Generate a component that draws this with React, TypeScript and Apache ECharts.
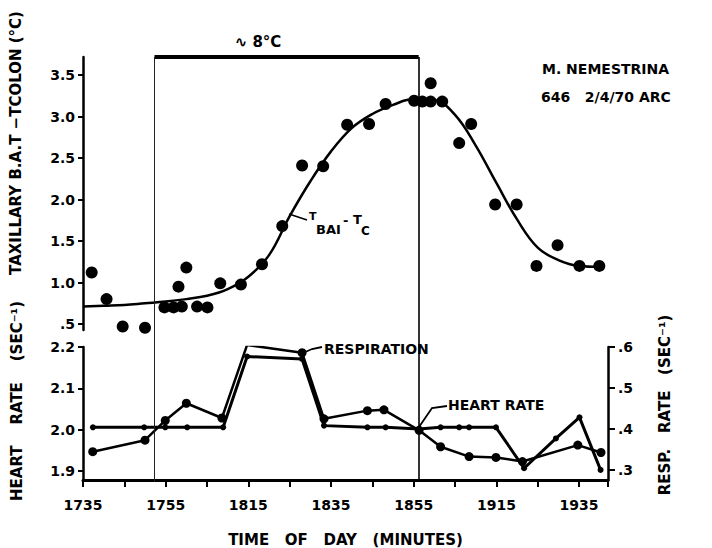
import React, { useEffect, useRef } from "react";
import * as echarts from "echarts";

// time axis: minutes after 17:35
const BASE_MINUTE = 17 * 60 + 35;
const timeTicks = [0, 20, 40, 60, 80, 100, 120];
const tempTicks = [0.5, 1.0, 1.5, 2.0, 2.5, 3.0, 3.5];
const heartTicks = [1.9, 2.0, 2.1, 2.2];
const respTicks = [0.3, 0.4, 0.5, 0.6];

// cold exposure (~8 °C)
const coldStart = 17.3;
const coldEnd = 81.2;

// T(BAT) - T(colon) measured points
const tempTimes = [2.1, 5.7, 9.6, 15.0, 19.7, 21.9, 23.1, 23.9, 25.0, 27.6, 30.1, 33.2, 38.2, 43.3, 48.2, 53.0, 58.1, 63.9, 69.2, 73.2, 80.1, 82.1, 84.1, 84.1, 86.9, 91.0, 93.9, 99.7, 104.9, 109.7, 114.8, 120.1, 124.9];
const tempValues = [1.12, 0.8, 0.47, 0.455, 0.7, 0.7, 0.95, 0.71, 1.18, 0.71, 0.7, 0.99, 0.975, 1.22, 1.68, 2.41, 2.4, 2.9, 2.91, 3.15, 3.19, 3.18, 3.18, 3.4, 3.18, 2.68, 2.91, 1.94, 1.94, 1.2, 1.45, 1.2, 1.2];

// fitted curve
const fitTimes = [0, 5, 10, 15, 20, 25, 30, 35, 40, 45, 50, 55, 60, 65, 70, 75, 80, 85, 90, 95, 100, 105, 110, 115, 120, 125];
const fitValues = [0.71, 0.72, 0.73, 0.75, 0.77, 0.8, 0.84, 0.92, 1.07, 1.33, 1.8, 2.22, 2.58, 2.86, 3.03, 3.14, 3.21, 3.2, 3.02, 2.65, 2.2, 1.76, 1.42, 1.27, 1.2, 1.19];

// heart rate (sec^-1)
const heartTimes = [2.4, 14.8, 19.9, 25.2, 33.9, 39.7, 53.0, 58.3, 68.8, 73.2, 81.3, 86.5, 91.0, 93.4, 99.9, 106.7, 114.4, 120.1, 125.2];
const heartValues = [2.006, 2.006, 2.006, 2.006, 2.006, 2.177, 2.171, 2.01, 2.006, 2.006, 2.002, 2.006, 2.006, 2.006, 2.006, 1.907, 1.979, 2.03, 1.903];

// respiration rate (sec^-1)
const respTimes = [2.35, 15.0, 19.9, 25.0, 33.6, 39.7, 53.0, 58.3, 68.8, 72.8, 81.3, 86.5, 93.4, 99.9, 106.3, 119.7, 125.3];
const respValues = [0.345, 0.373, 0.421, 0.463, 0.427, 0.605, 0.586, 0.425, 0.445, 0.447, 0.397, 0.357, 0.333, 0.331, 0.321, 0.361, 0.343];

const FONT = "'DejaVu Sans', sans-serif";
const zip = (a: number[], b: number[]) => a.map((x, i) => [x, b[i]]);
const hhmm = (v: number) => {
  const m = BASE_MINUTE + v;
  const h = Math.floor(m / 60);
  const mm = m % 60;
  return `${h}${String(mm).padStart(2, "0")}`;
};
const dotFmt = (v: number) => "." + Math.round(v * 10);

export default function App() {
  const ref = useRef<HTMLDivElement>(null);
  useEffect(() => {
    document.body.style.margin = "0";
    const chart = echarts.init(ref.current!, null, { renderer: "svg" });
    const axisLabelBase = { color: "#000", fontFamily: FONT, fontWeight: "bold" as const, fontSize: 14 };
    const axLine = { show: true, lineStyle: { color: "#000", width: 2.5 } };
    chart.setOption({
      animation: false,
      backgroundColor: "#fff",
      grid: [
        { left: 83, right: 104, top: 57, bottom: 218 },
        { left: 83, right: 104, top: 347, bottom: 66 },
        { left: 83, right: 104, top: 57, bottom: 66 },
      ],
      xAxis: [
        { gridIndex: 0, type: "value", min: 0, max: 127, show: false },
        {
          gridIndex: 1, type: "value", min: 0, max: 127, interval: 10,
          axisLine: { show: true, lineStyle: { color: "#000", width: 3 } },
          axisTick: { show: true, length: 7, lineStyle: { color: "#000", width: 2 } },
          axisLabel: { ...axisLabelBase, margin: 18, customValues: timeTicks, formatter: (v: number) => hhmm(v) },
          splitLine: { show: false },
          name: "TIME   OF   DAY   (MINUTES)",
          nameLocation: "middle",
          nameGap: 52,
          nameTextStyle: { ...axisLabelBase, fontSize: 15 },
        },
        { gridIndex: 2, type: "value", min: 0, max: 127, show: false },
      ],
      yAxis: [
        {
          gridIndex: 0, type: "value", min: 0.428, max: 3.717,
          axisLine: axLine,
          axisTick: { show: true, length: 5, customValues: tempTicks, lineStyle: { color: "#000", width: 2 } },
          axisLabel: { ...axisLabelBase, margin: 8, customValues: tempTicks, formatter: (v: number) => (v === 0.5 ? ".5" : v.toFixed(1)) },
          splitLine: { show: false },
        },
        {
          gridIndex: 1, type: "value", min: 1.8786, max: 2.2, position: "left",
          axisLine: axLine,
          axisTick: { show: true, length: 5, customValues: heartTicks, lineStyle: { color: "#000", width: 2 } },
          axisLabel: { ...axisLabelBase, margin: 8, customValues: heartTicks, formatter: (v: number) => v.toFixed(1) },
          splitLine: { show: false },
        },
        {
          gridIndex: 1, type: "value", min: 0.276, max: 0.6, position: "right",
          axisLine: axLine,
          axisTick: { show: true, length: 7, customValues: respTicks, lineStyle: { color: "#000", width: 2 } },
          axisLabel: { ...axisLabelBase, margin: 10, customValues: respTicks, formatter: dotFmt },
          splitLine: { show: false },
        },
        { gridIndex: 2, type: "value", min: 0, max: 1, show: false },
      ],
      series: [
        {
          name: "TBAT - TC measured", type: "scatter", xAxisIndex: 0, yAxisIndex: 0,
          data: zip(tempTimes, tempValues), symbolSize: 12, clip: false,
          itemStyle: { color: "#000", opacity: 1 }, silent: true,
        },
        {
          name: "TBAT - TC fit", type: "line", xAxisIndex: 0, yAxisIndex: 0,
          data: zip(fitTimes, fitValues), smooth: 0.4, showSymbol: false,
          lineStyle: { color: "#000", width: 2.5 }, silent: true,
        },
        {
          name: "HEART RATE", type: "line", xAxisIndex: 1, yAxisIndex: 1,
          data: zip(heartTimes, heartValues), symbol: "circle", symbolSize: 6,
          itemStyle: { color: "#000" }, lineStyle: { color: "#000", width: 3 }, silent: true,
        },
        {
          name: "RESPIRATION", type: "line", xAxisIndex: 1, yAxisIndex: 2,
          data: zip(respTimes, respValues), symbol: "circle", symbolSize: 9,
          itemStyle: { color: "#000" }, lineStyle: { color: "#000", width: 2.5 }, silent: true,
        },
        {
          name: "cold exposure", type: "line", xAxisIndex: 2, yAxisIndex: 3,
          data: [[coldStart, 1], [coldEnd, 1]], showSymbol: false,
          lineStyle: { color: "#000", width: 4 }, silent: true,
          markLine: {
            silent: true, symbol: ["none", "none"], label: { show: false },
            data: [
              { xAxis: coldStart, lineStyle: { color: "#222", width: 1, type: "solid" } },
              { xAxis: coldEnd, lineStyle: { color: "#000", width: 1.6, type: "solid" } },
            ],
          },
        },
      ],
      graphic: [
        {
          type: "text", x: 16, y: 143, rotation: Math.PI / 2,
          style: { text: "TAXILLARY B.A.T −TCOLON (°C)", fill: "#000", font: `bold 15px ${FONT}`, align: "center", verticalAlign: "middle" },
        },
        {
          type: "text", x: 17, y: 401, rotation: Math.PI / 2,
          style: { text: "HEART    RATE    (SEC⁻¹)", fill: "#000", font: `bold 15px ${FONT}`, align: "center", verticalAlign: "middle" },
        },
        {
          type: "text", x: 665, y: 405, rotation: Math.PI / 2,
          style: { text: "RESP.   RATE   (SEC⁻¹)", fill: "#000", font: `bold 15px ${FONT}`, align: "center", verticalAlign: "middle" },
        },
        {
          type: "text", x: 258, y: 42,
          style: { text: "∿ 8°C", fill: "#000", font: `bold 15px ${FONT}`, align: "center", verticalAlign: "middle" },
        },
        {
          type: "text", x: 542, y: 69,
          style: { text: "M. NEMESTRINA", fill: "#000", font: `bold 14px ${FONT}`, align: "left", verticalAlign: "middle" },
        },
        {
          type: "text", x: 541, y: 97,
          style: { text: "646   2/4/70 ARC", fill: "#000", font: `bold 14px ${FONT}`, align: "left", verticalAlign: "middle" },
        },
        { type: "line", shape: { x1: 289, y1: 214, x2: 307, y2: 220 }, style: { stroke: "#000", lineWidth: 1.5 } },
        { type: "text", x: 309, y: 211, style: { text: "T", fill: "#000", font: `bold 11px ${FONT}`, verticalAlign: "top" } },
        { type: "text", x: 316, y: 223, style: { text: "BAI", fill: "#000", font: `bold 13px ${FONT}`, verticalAlign: "top" } },
        { type: "text", x: 343, y: 214, style: { text: "-", fill: "#000", font: `bold 13px ${FONT}`, verticalAlign: "top" } },
        { type: "text", x: 353, y: 213, style: { text: "T", fill: "#000", font: `bold 13px ${FONT}`, verticalAlign: "top" } },
        { type: "text", x: 361, y: 225, style: { text: "C", fill: "#000", font: `bold 12px ${FONT}`, verticalAlign: "top" } },
        { type: "polyline", shape: { points: [[322, 347], [312, 349], [303, 353]] }, style: { stroke: "#000", lineWidth: 1.8, fill: "none" } },
        { type: "text", x: 324, y: 349, style: { text: "RESPIRATION", fill: "#000", font: `bold 14px ${FONT}`, verticalAlign: "middle" } },
        { type: "polyline", shape: { points: [[447, 406], [432, 408], [419, 427]] }, style: { stroke: "#000", lineWidth: 1.8, fill: "none" } },
        { type: "text", x: 448, y: 405, style: { text: "HEART RATE", fill: "#000", font: `bold 14px ${FONT}`, verticalAlign: "middle" } },
      ],
    });
    return () => chart.dispose();
  }, []);
  return <div ref={ref} style={{ width: 712, height: 548 }} />;
}
